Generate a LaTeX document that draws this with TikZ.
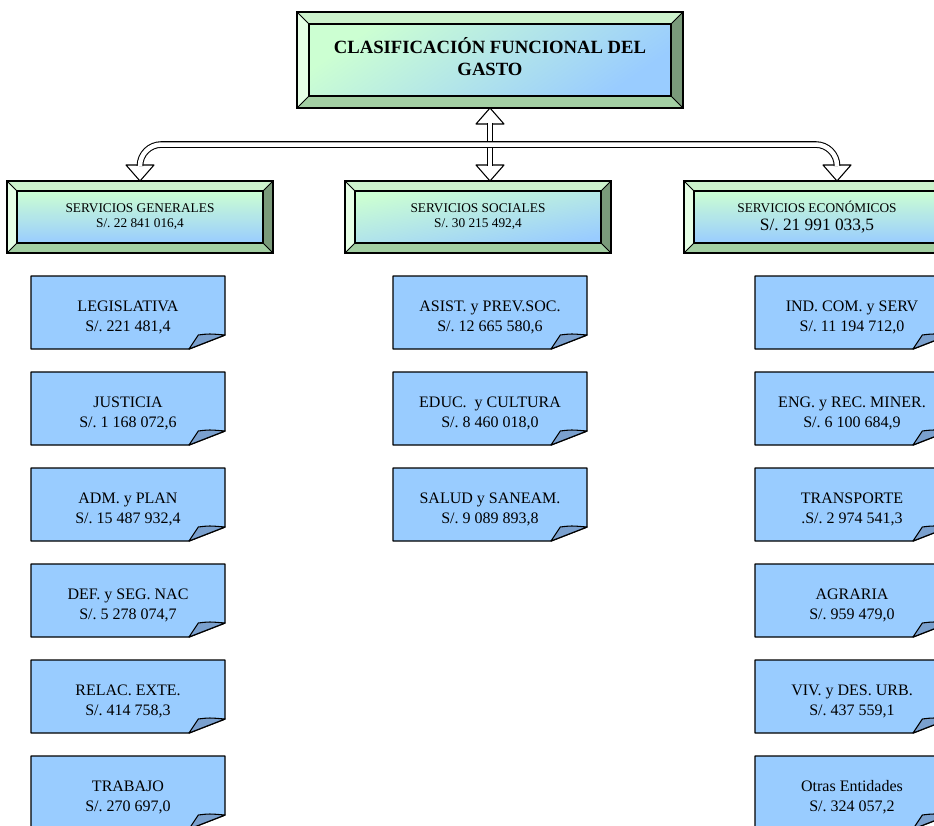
\documentclass[tikz,border=0pt]{standalone}
\usepackage{fontspec}
\setmainfont{Liberation Serif}
\usepackage{tikz}
\usetikzlibrary{positioning}
\pgfdeclarelayer{background}
\pgfsetlayers{background,main}

\definecolor{leafblue}{RGB}{153,204,255}
\definecolor{flapblue}{RGB}{122,160,206}
\definecolor{bevleft}{RGB}{230,255,230}
\definecolor{bevtop}{RGB}{204,242,204}
\definecolor{bevbottom}{RGB}{163,207,163}
\definecolor{bevright}{RGB}{122,154,122}
\definecolor{innergreen}{RGB}{204,255,210}
\definecolor{innerblue}{RGB}{153,204,255}
\newcommand\notetop{\rule{0pt}{16pt}}

\begin{document}
\frenchspacing
\begin{tikzpicture}[x=0.75pt, y=0.75pt, node distance=17.25pt,
bevelnode/.style={rectangle, outer sep=0pt, inner sep=0pt, align=center, minimum width=199.5pt, minimum height=54pt, font=\fontsize{10}{11.25}\selectfont},
leafnode/.style={rectangle, outer sep=0pt, inner sep=0pt, align=center, minimum width=145.5pt, minimum height=54.75pt, font=\fontsize{12}{15}\selectfont},
hollow/.style={double=white, double distance=3.4pt, line width=0.8pt, rounded corners=16pt},
]
    \useasboundingbox (0,0) rectangle (934,-825);

    \node[bevelnode, minimum width=289.5pt, minimum height=72pt, font=\bfseries\fontsize{14}{16.5}\selectfont] (gasto) at (490,-60) {CLASIFICACIÓN FUNCIONAL DEL\\GASTO\rule[-6pt]{0pt}{0pt}};
    \node[bevelnode]   (sociales)    [below=54.75pt of gasto, xshift=-9pt]      {SERVICIOS SOCIALES\\S/. 30 215 492,4};
    \node[bevelnode]   (generales)   [left=54pt of sociales]                    {SERVICIOS GENERALES\\S/. 22 841 016,4};
    \node[bevelnode]   (economicos)  [right=54.75pt of sociales]                {SERVICIOS ECONÓMICOS\\[2pt]{\fontsize{13}{15}\selectfont S/. 21 991 033,5}};

    \node[leafnode]    (legislativa) [below=of generales, xshift=-9pt]          {\notetop LEGISLATIVA\\S/. 221 481,4};
    \node[leafnode]    (justicia)    [below=of legislativa]                     {\notetop JUSTICIA\\S/. 1 168 072,6};
    \node[leafnode]    (admplan)     [below=of justicia]                        {\notetop ADM. y PLAN\\S/. 15 487 932,4};
    \node[leafnode]    (defensa)     [below=of admplan]                         {\notetop DEF. y SEG. NAC\\S/. 5 278 074,7};
    \node[leafnode]    (relaciones)  [below=of defensa]                         {\notetop RELAC. EXTE.\\S/. 414 758,3};
    \node[leafnode]    (trabajo)     [below=of relaciones]                      {\notetop TRABAJO\\S/. 270 697,0};

    \node[leafnode]    (asistencia)  [below=of sociales, xshift=9pt]            {\notetop ASIST. y PREV.SOC.\\S/. 12 665 580,6};
    \node[leafnode]    (educacion)   [below=of asistencia]                      {\notetop EDUC.~~y CULTURA\\S/. 8 460 018,0};
    \node[leafnode]    (salud)       [below=of educacion]                       {\notetop SALUD y SANEAM.\\S/. 9 089 893,8};

    \node[leafnode]    (industria)   [below=of economicos, xshift=26.25pt]      {\notetop IND. COM. y SERV\\S/. 11 194 712,0};
    \node[leafnode]    (energia)     [below=of industria]                       {\notetop ENG. y REC. MINER.\\S/. 6 100 684,9};
    \node[leafnode]    (transporte)  [below=of energia]                         {\notetop TRANSPORTE\\.S/. 2 974 541,3};
    \node[leafnode]    (agraria)     [below=of transporte]                      {\notetop AGRARIA\\S/. 959 479,0};
    \node[leafnode]    (vivienda)    [below=of agraria]                         {\notetop VIV. y DES. URB.\\S/. 437 559,1};
    \node[leafnode]    (otras)       [below=of vivienda]                        {\notetop Otras Entidades\\S/. 324 057,2};

    \begin{pgfonlayer}{background}
    % bevelled frames
    \foreach \nm/\bw/\ang in {gasto/9pt/35, generales/7.5pt/0, sociales/7.5pt/10, economicos/7.5pt/0}{
        \fill[bevleft] (\nm.north west) -- ([shift={(\bw,-\bw)}]\nm.north west) -- ([shift={(\bw,\bw)}]\nm.south west) -- (\nm.south west) -- cycle;
        \fill[bevtop] (\nm.north west) -- (\nm.north east) -- ([shift={(-\bw,-\bw)}]\nm.north east) -- ([shift={(\bw,-\bw)}]\nm.north west) -- cycle;
        \fill[bevbottom] (\nm.south west) -- (\nm.south east) -- ([shift={(-\bw,\bw)}]\nm.south east) -- ([shift={(\bw,\bw)}]\nm.south west) -- cycle;
        \fill[bevright] (\nm.north east) -- (\nm.south east) -- ([shift={(-\bw,\bw)}]\nm.south east) -- ([shift={(-\bw,-\bw)}]\nm.north east) -- cycle;
        \draw[line width=0.6pt] (\nm.north west) -- ([shift={(\bw,-\bw)}]\nm.north west) (\nm.north east) -- ([shift={(-\bw,-\bw)}]\nm.north east)
            (\nm.south west) -- ([shift={(\bw,\bw)}]\nm.south west) (\nm.south east) -- ([shift={(-\bw,\bw)}]\nm.south east);
        \draw[line width=1.1pt, top color=innergreen, bottom color=innerblue, shading angle=\ang] ([shift={(\bw,-\bw)}]\nm.north west) rectangle ([shift={(-\bw,\bw)}]\nm.south east);
        \draw[line width=1.1pt] (\nm.north west) rectangle (\nm.south east);
    }
    % folded notes
    \foreach \nm in {legislativa, justicia, admplan, defensa, relaciones, trabajo, asistencia, educacion, salud, industria, energia, transporte, agraria, vivienda, otras}{
        \filldraw[fill=leafblue, line width=1.1pt, line join=round] (\nm.north west) -- (\nm.north east) -- ([yshift=10.5pt]\nm.south east) -- ([xshift=-27pt]\nm.south east) -- (\nm.south west) -- cycle;
        \filldraw[fill=flapblue, line width=0.8pt, line join=round] ([xshift=-27pt]\nm.south east) -- ([shift={(-20pt,10.5pt)}]\nm.south east) .. controls ([shift={(-12pt,11.5pt)}]\nm.south east) .. ([yshift=10.5pt]\nm.south east) -- cycle;
    }
    \end{pgfonlayer}

    % connectors
    \coordinate (tipu) at (gasto.south);
    \coordinate (tipl) at (generales.north);
    \coordinate (tipm) at (gasto.south |- sociales.north);
    \coordinate (tipr) at ([xshift=15pt]economicos.north);
    \coordinate (bus)  at ([yshift=-27.4pt]gasto.south);
    \foreach \t/\d in {tipl/1, tipm/1, tipr/1, tipu/-1}
        \draw[line width=0.8pt, fill=white, line join=round] (\t) -- ([shift={(-10.5pt,\d*12pt)}]\t) -- ([shift={(10.5pt,\d*12pt)}]\t) -- cycle;
    \draw[hollow] ([yshift=-11.6pt]tipu) -- ([yshift=11.6pt]tipm);
    \draw[hollow] ([yshift=11.6pt]tipl) |- (bus) -| ([yshift=11.6pt]tipr);
\end{tikzpicture}
\end{document}
